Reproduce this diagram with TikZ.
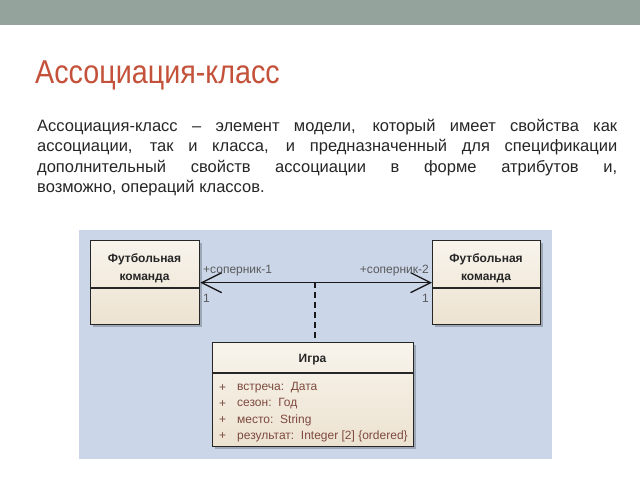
\documentclass[tikz,border=0pt]{standalone}
\usepackage{fontspec}
\setmainfont{Liberation Sans}
\usetikzlibrary{arrows.meta}
\definecolor{band}{HTML}{94A39B}
\definecolor{titlered}{HTML}{C4513A}
\definecolor{bodytext}{HTML}{262626}
\definecolor{panel}{HTML}{CBD6E9}
\definecolor{boxtop}{HTML}{F8F4EC}
\definecolor{boxbot}{HTML}{ECE2D0}
\definecolor{attr}{HTML}{7E4A3E}
\definecolor{role}{HTML}{5A5A5A}
\tikzset{
  classbox/.style={draw=black!85, line width=1.3pt, top color=boxtop, bottom color=boxbot, anchor=north west, inner sep=0pt},
  shadowbox/.style={fill=black, opacity=0.22, anchor=north west, inner sep=0pt},
  ctitle/.style={font=\fontsize{12}{18}\selectfont\bfseries, align=center, text=black!85},
  attrtext/.style={font=\fontsize{12}{13}\selectfont, text=attr, anchor=west, inner sep=0pt},
  roletext/.style={font=\fontsize{12}{13}\selectfont, text=role, inner sep=0pt},
  assoc/.style={line width=1.3pt, draw=black!90, >={Straight Barb[length=20pt,width=20pt,line width=1.3pt]}},
}
\begin{document}
\begin{tikzpicture}[x=1pt,y=-1pt]
\useasboundingbox (0,0) rectangle (640,480);
\fill[white] (0,0) rectangle (640,480);
\fill[band] (0,0) rectangle (640,25);
\node[anchor=base west, inner sep=0pt, text=titlered, font=\fontsize{33}{38}\selectfont] (title) at (35,83) {\scalebox{0.87}[1]{Ассоциация-класс}};
\node[anchor=north west, inner sep=0pt, text=bodytext, text width=580pt, align=justify, font=\fontsize{16.5}{20.3}\selectfont] (body) at (37,119) {Ассоциация-класс – элемент модели, который имеет свойства как ассоциации, так и класса, и предназначенный для спецификации дополнительный свойств ассоциации в форме атрибутов и,\linebreak возможно, операций классов.};
% panel
\fill[panel] (79,230) rectangle (552,459);
% shadows
\node[shadowbox, minimum width=109pt, minimum height=84pt] (s1) at (93,243) {};
\node[shadowbox, minimum width=108pt, minimum height=84pt] (s2) at (435,243) {};
\node[shadowbox, minimum width=201pt, minimum height=104pt] (s3) at (215,345) {};
% class boxes
\node[classbox, minimum width=109pt, minimum height=84pt] (t1) at (90,240) {};
\node[classbox, minimum width=108pt, minimum height=84pt] (t2) at (432,240) {};
\node[classbox, minimum width=201pt, minimum height=104pt] (g) at (212,342) {};
\draw[line width=1.3pt, black!85] (90,288) -- (199,288);
\draw[line width=1.3pt, black!85] (432,288) -- (540,288);
\draw[line width=1.3pt, black!85] (212,373) -- (413,373);
\node[ctitle] (t1name) at (144.5,268) {Футбольная\\команда};
\node[ctitle] (t2name) at (486,268) {Футбольная\\команда};
\node[ctitle] (gname) at (312.5,360) {Игра};
% attributes
\foreach \y/\n/\t [count=\i] in {388/встреча:/Дата, 404/сезон:/Год, 420/место:/String, 436/результат:/{Integer [2] \{ordered\}}} {
  \node[attrtext] (p\i) at (219,\y) {+};
  \node[attrtext] (a\i) at (237,\y) {\n\ \ \t};
}
% association
\draw[assoc, <->] (t1.east) -- (t2.west);
\coordinate (m) at (315,282);
\draw[assoc, dash pattern=on 6pt off 4pt] (m) -- (m |- g.north);
\node[roletext, anchor=west] (r1) at (203,271) {+соперник-1};
\node[roletext, anchor=east] (r2) at (429,271) {+соперник-2};
\node[roletext, anchor=west] (n1) at (203,298) {1};
\node[roletext, anchor=east] (n2) at (429,298) {1};
\end{tikzpicture}
\end{document}
